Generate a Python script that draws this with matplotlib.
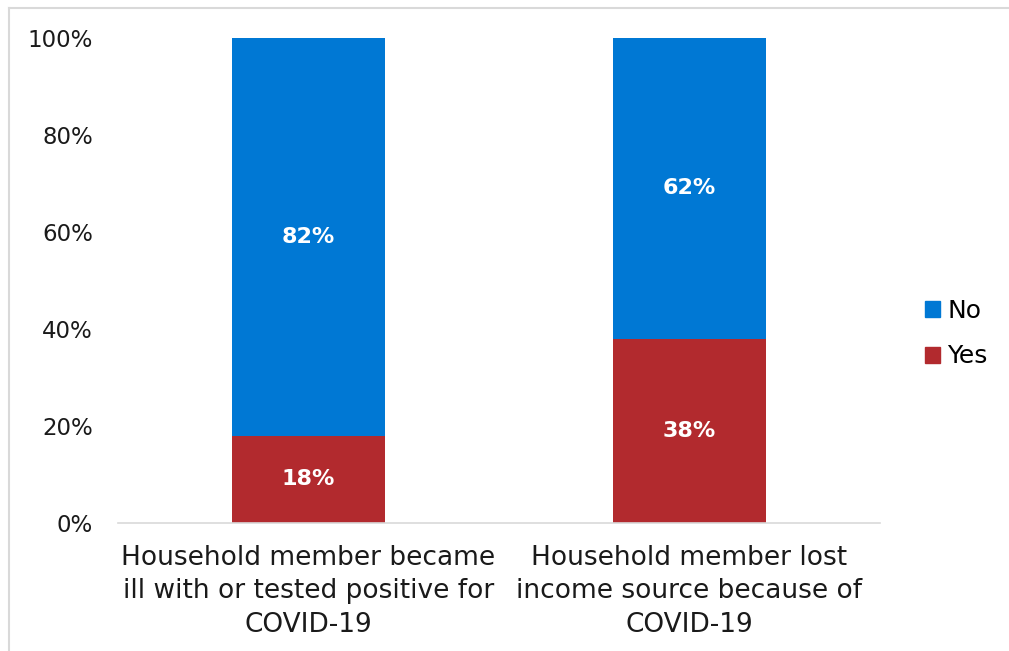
import matplotlib
matplotlib.use("Agg")
import matplotlib.pyplot as plt
from matplotlib.lines import Line2D
from matplotlib.patches import Patch

categories = [
    "Household member became\nill with or tested positive for\nCOVID-19",
    "Household member lost\nincome source because of\nCOVID-19",
]
yes_vals = [18, 38]
no_vals = [82, 62]
yticks = [0, 20, 40, 60, 80, 100]

blue = "#0078D4"
red = "#B22A2E"

plt.rcParams["font.family"] = ["DejaVu Sans"]

fig = plt.figure(figsize=(10.09, 6.51), dpi=100)
ax = fig.add_axes([0.1169, 0.1966, 0.7552, 0.745])

x = list(range(len(categories)))
width = 0.4
ax.bar(x, yes_vals, width, color=red, label="Yes", zorder=2)
ax.bar(x, no_vals, width, bottom=yes_vals, color=blue, label="No", zorder=2)

for xi, y, n in zip(x, yes_vals, no_vals):
    ax.text(xi, y / 2, f"{y}%", ha="center", va="center", color="white",
            fontsize=16, fontweight="bold")
    ax.text(xi, y + n / 2, f"{n}%", ha="center", va="center", color="white",
            fontsize=16, fontweight="bold")

ax.set_xlim(-0.5, 1.5)
ax.set_ylim(0, 100)
ax.set_yticks(yticks)
ax.set_yticklabels([f"{t}%" for t in yticks], fontsize=16.5, color="#1a1a1a")
ax.set_xticks(x)
ax.set_xticklabels(categories, fontsize=19, color="#1a1a1a", linespacing=1.36)
ax.tick_params(axis="both", length=0)
ax.tick_params(axis="y", pad=18)
ax.tick_params(axis="x", pad=16)
for s in ["top", "right", "left"]:
    ax.spines[s].set_visible(False)
ax.spines["bottom"].set_color("#d9d9d9")
ax.spines["bottom"].set_linewidth(1.2)

handles = [Patch(color=blue, label="No"), Patch(color=red, label="Yes")]
ax.legend(handles=handles, loc="center left", bbox_to_anchor=(1.029, 0.39),
          frameon=False, fontsize=18, handlelength=0.6, handleheight=0.6,
          handletextpad=0.3, labelspacing=0.85)

# outer frame of the chart area
fig.add_artist(Line2D([9 / 1009, 1.0], [1 - 8 / 651, 1 - 8 / 651],
                      transform=fig.transFigure, color="#d9d9d9", lw=1.5))
fig.add_artist(Line2D([9 / 1009, 9 / 1009], [0.0, 1 - 8 / 651],
                      transform=fig.transFigure, color="#d9d9d9", lw=1.5))

fig.savefig("out.png", dpi=100)
